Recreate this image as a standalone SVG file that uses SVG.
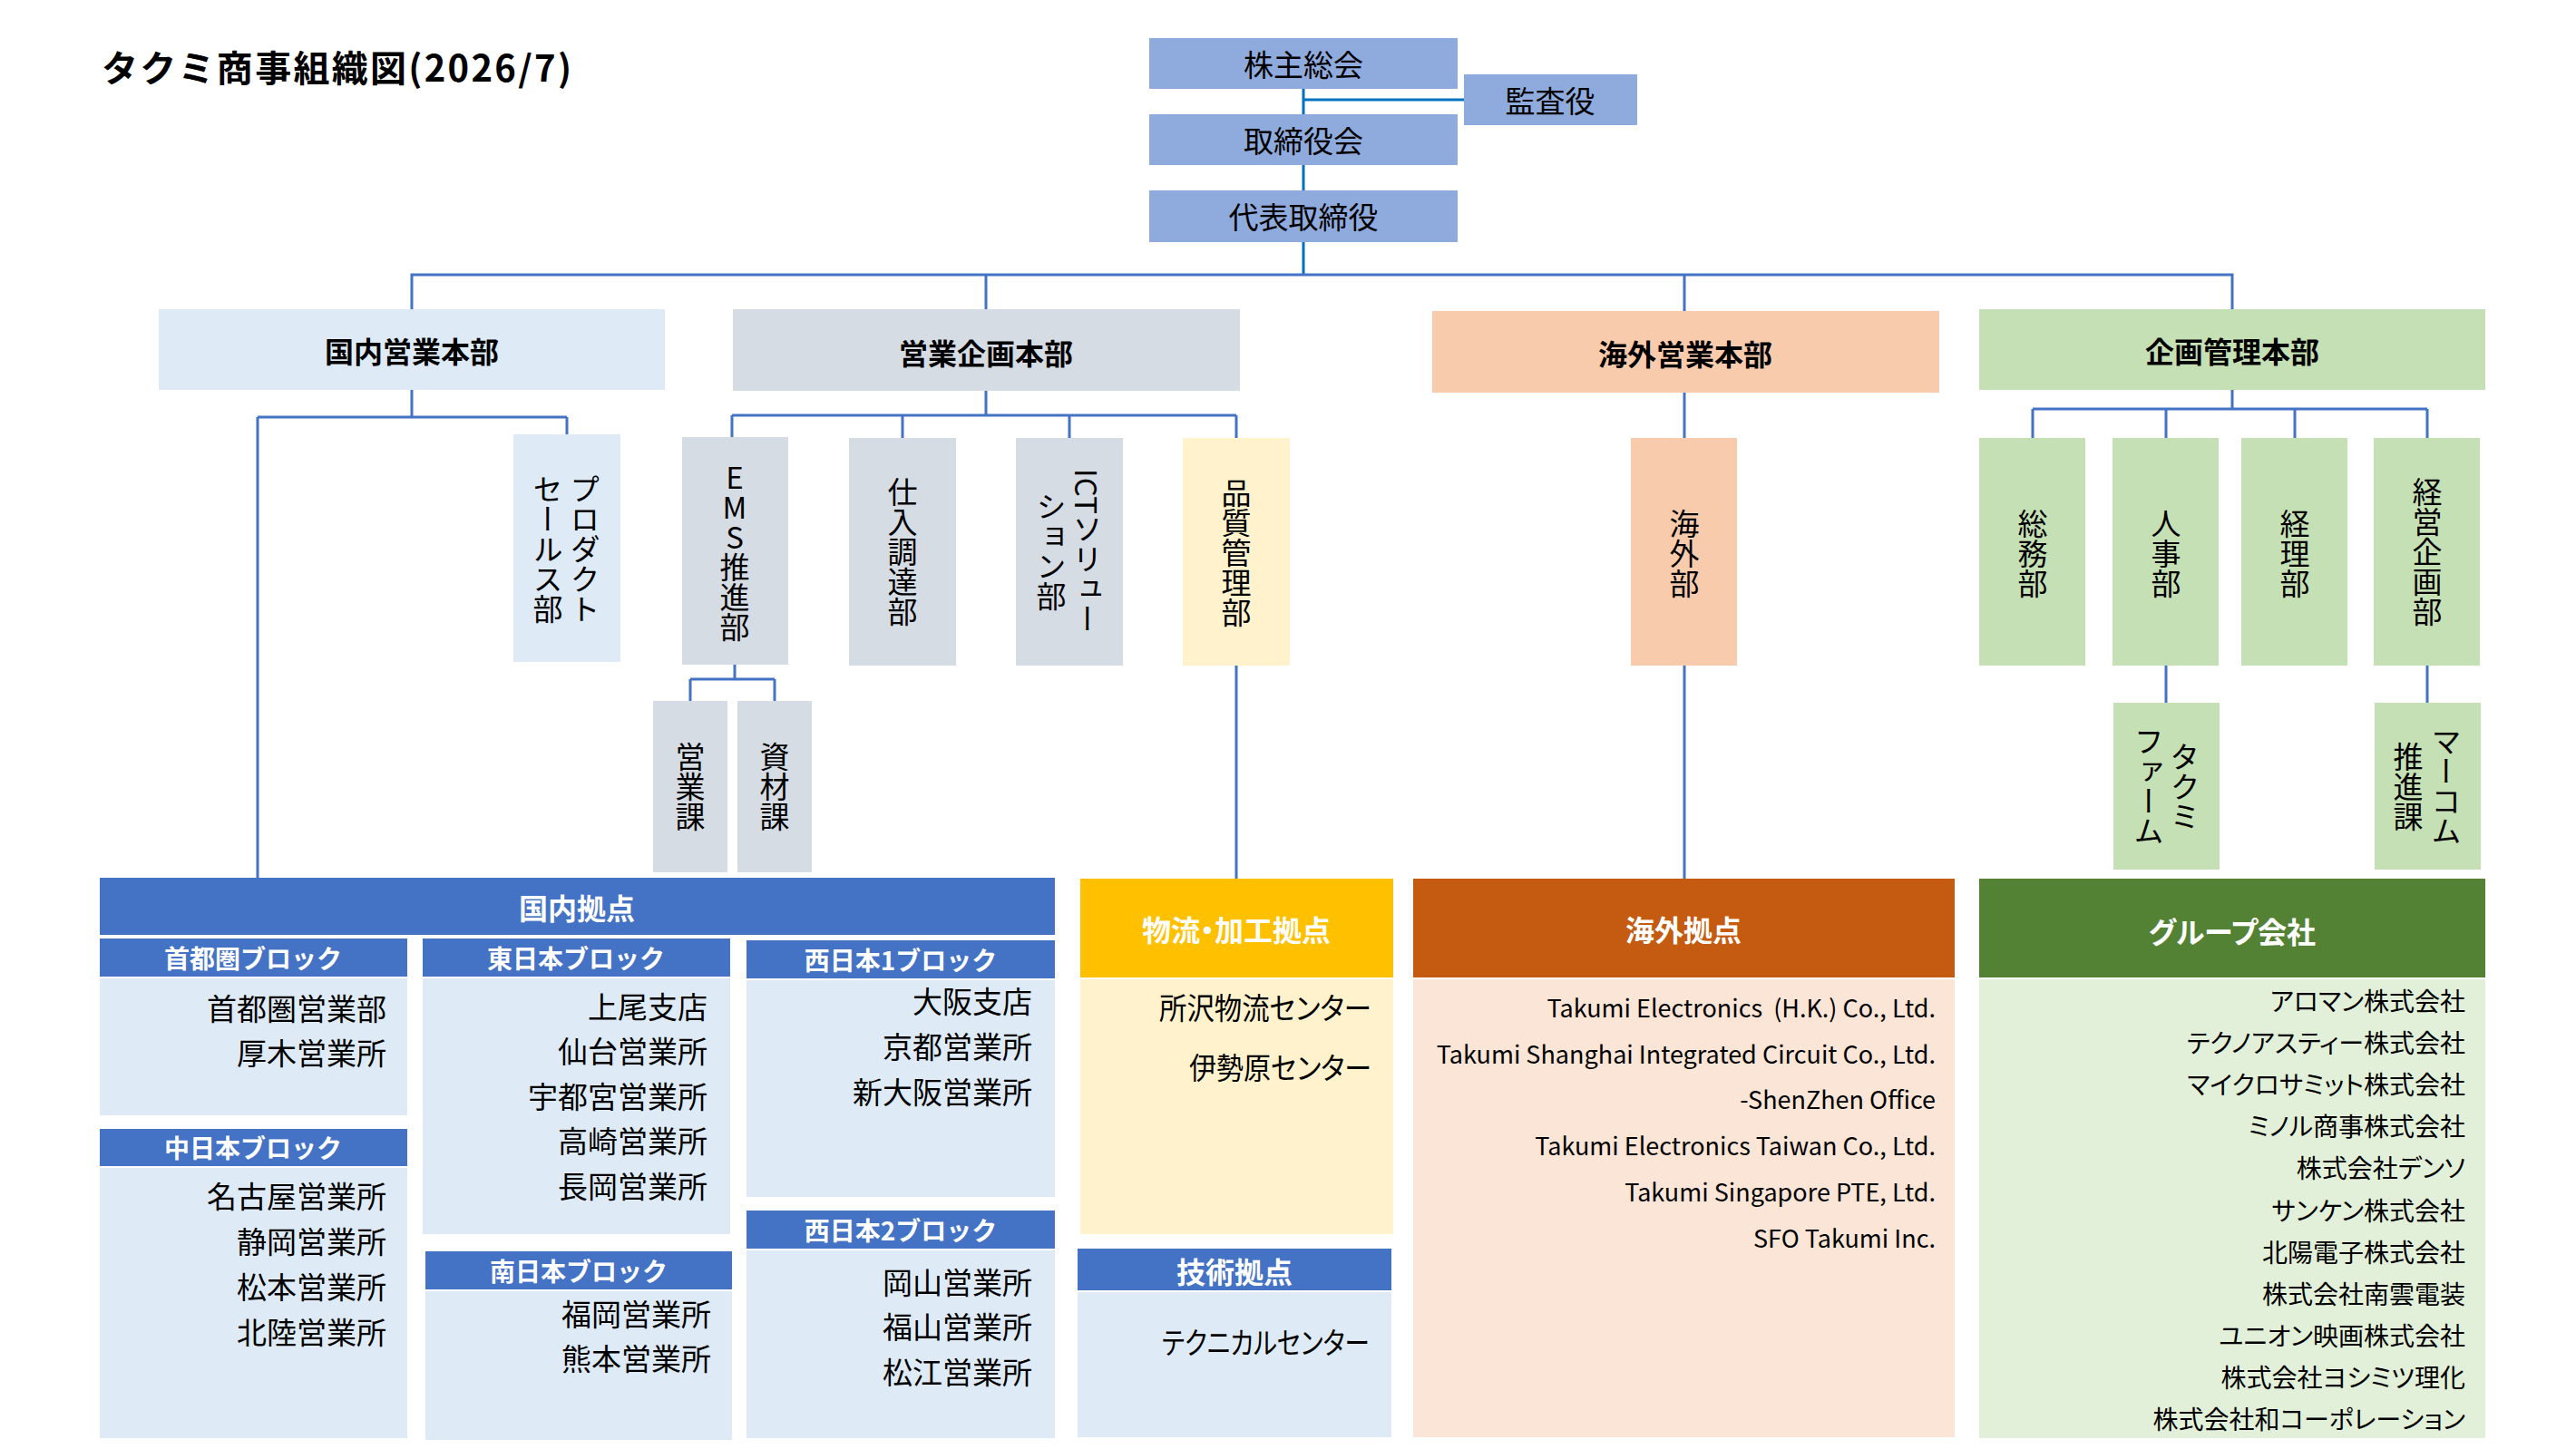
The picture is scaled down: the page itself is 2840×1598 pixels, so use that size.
<svg xmlns="http://www.w3.org/2000/svg" width="2840" height="1598" viewBox="0 0 2840 1598">
<style>
text { font-family: "Noto Sans CJK JP", "Noto Sans", sans-serif; fill: #000; dominant-baseline: central; }
.top { font-size: 33px; text-anchor: middle; }
.hd { font-size: 32px; font-weight: bold; text-anchor: middle; }
.v { font-size: 33px; writing-mode: vertical-rl; text-anchor: middle; }
.up { text-orientation: upright; }
.wh { fill: #fff; font-weight: bold; text-anchor: middle; font-size: 32px; font-feature-settings: "palt"; }
.bk { fill: #fff; font-weight: bold; text-anchor: middle; font-size: 28px; }
.it { font-size: 33px; text-anchor: end; font-feature-settings: "palt"; }
.en { font-size: 27px; text-anchor: end; }
.gc { font-size: 28px; text-anchor: end; font-feature-settings: "palt"; }
.ln { stroke: #4472C4; stroke-width: 3; fill: none; }
.ln2 { stroke: #0070C0; stroke-width: 3; fill: none; }
.exec { fill: #8FAADC; }
.lb { fill: #DEEBF7; }
.gy { fill: #D6DCE4; }
.yl { fill: #FFF2CC; }
.or { fill: #F8CBAD; }
.gr { fill: #C5E0B4; }
.bl { fill: #4472C4; }
</style>

<text id="title" x="112" y="73" font-size="40" font-weight="bold" textLength="518" lengthAdjust="spacing">タクミ商事組織図(2026/7)</text>

<g id="connectors">
  <path class="ln2" d="M1437,98 V126 M1437,182 V210 M1437,267 V303 M1437,110 H1614"/>
  <path class="ln" d="M454,341 V303 H2461 V341 M1087,303 V341 M1857,303 V343"/>
  <path class="ln" d="M454,430 V460 M284,460 H625 M284,460 V968 M625,460 V479"/>
  <path class="ln" d="M1087,431 V458 M807,458 H1363 M807,458 V482 M995,458 V483 M1179,458 V483 M1363,458 V483"/>
  <path class="ln" d="M810,733 V749 M761,749 H854 M761,749 V773 M854,749 V773"/>
  <path class="ln" d="M1363,734 V969"/>
  <path class="ln" d="M1857,433 V483 M1857,734 V969"/>
  <path class="ln" d="M2461,430 V451 M2241,451 H2676 M2241,451 V483 M2388,451 V483 M2530,451 V483 M2676,451 V483"/>
  <path class="ln" d="M2388,734 V775 M2676,734 V775"/>
</g>

<g id="n-kabunushi"><rect class="exec" x="1267" y="42" width="340" height="56"/><text class="top" x="1437" y="70">株主総会</text></g>
<g id="n-kansa"><rect class="exec" x="1614" y="82" width="191" height="56"/><text class="top" x="1709" y="110">監査役</text></g>
<g id="n-torishimari"><rect class="exec" x="1267" y="126" width="340" height="56"/><text class="top" x="1437" y="154">取締役会</text></g>
<g id="n-daihyo"><rect class="exec" x="1267" y="210" width="340" height="57"/><text class="top" x="1437" y="238">代表取締役</text></g>

<g id="n-kokunai-honbu"><rect class="lb" x="175" y="341" width="558" height="89"/><text class="hd" x="454" y="386">国内営業本部</text></g>
<g id="n-kikaku-eigyo-honbu"><rect class="gy" x="808" y="341" width="559" height="90"/><text class="hd" x="1087" y="388">営業企画本部</text></g>
<g id="n-kaigai-honbu"><rect class="or" x="1579" y="343" width="559" height="90"/><text class="hd" x="1858" y="389">海外営業本部</text></g>
<g id="n-kanri-honbu"><rect class="gr" x="2182" y="341" width="558" height="89"/><text class="hd" x="2461" y="386">企画管理本部</text></g>

<g id="n-product"><rect class="lb" x="566" y="479" width="118" height="251"/><text class="v" x="645" y="605">プロダクト</text><text class="v" x="604" y="605">セールス部</text></g>
<g id="n-ems"><rect class="gy" x="752" y="482" width="117" height="251"/><text class="v up" x="810" y="609">EMS推進部</text></g>
<g id="n-shiire"><rect class="gy" x="936" y="483" width="118" height="251"/><text class="v" x="995" y="608">仕入調達部</text></g>
<g id="n-ict"><rect class="gy" x="1120" y="483" width="118" height="251"/><text class="v" x="1199" y="608">ICTソリュー</text><text class="v" x="1159" y="608">ション部</text></g>
<g id="n-hinshitsu"><rect class="yl" x="1304" y="483" width="118" height="251"/><text class="v" x="1363" y="609">品質管理部</text></g>
<g id="n-eigyoka"><rect class="gy" x="720" y="773" width="82" height="189"/><text class="v" x="761" y="867">営業課</text></g>
<g id="n-shizaika"><rect class="gy" x="813" y="773" width="82" height="189"/><text class="v" x="854" y="867">資材課</text></g>
<g id="n-kaigaibu"><rect class="or" x="1798" y="483" width="117" height="251"/><text class="v" x="1857" y="610">海外部</text></g>
<g id="n-somu"><rect class="gr" x="2182" y="483" width="117" height="251"/><text class="v" x="2241" y="610">総務部</text></g>
<g id="n-jinji"><rect class="gr" x="2329" y="483" width="117" height="251"/><text class="v" x="2388" y="610">人事部</text></g>
<g id="n-keiri"><rect class="gr" x="2471" y="483" width="117" height="251"/><text class="v" x="2530" y="610">経理部</text></g>
<g id="n-keiei"><rect class="gr" x="2617" y="483" width="117" height="251"/><text class="v" x="2676" y="608">経営企画部</text></g>
<g id="n-takumifarm"><rect class="gr" x="2330" y="775" width="117" height="184"/><text class="v" x="2409" y="867">タクミ</text><text class="v" x="2369" y="867">ファーム</text></g>
<g id="n-marcom"><rect class="gr" x="2618" y="775" width="117" height="184"/><text class="v" x="2697" y="867">マーコム</text><text class="v" x="2655" y="867">推進課</text></g>

<g id="n-kokunai-kyoten">
  <rect class="bl" x="110" y="968" width="1053" height="63"/><text class="wh" x="636" y="1000">国内拠点</text>
</g>
<g id="n-shutoken">
  <rect class="bl" x="110" y="1035" width="339" height="42"/><text class="bk" x="279" y="1056">首都圏ブロック</text>
  <rect class="lb" x="110" y="1079" width="339" height="151"/>
  <text class="it" x="426" y="1111">首都圏営業部</text><text class="it" x="426" y="1160">厚木営業所</text>
</g>
<g id="n-nakanihon">
  <rect class="bl" x="110" y="1245" width="339" height="41"/><text class="bk" x="279" y="1265">中日本ブロック</text>
  <rect class="lb" x="110" y="1288" width="339" height="298"/>
  <text class="it" x="426" y="1318">名古屋営業所</text><text class="it" x="426" y="1368">静岡営業所</text>
  <text class="it" x="426" y="1418">松本営業所</text><text class="it" x="426" y="1468">北陸営業所</text>
</g>
<g id="n-higashinihon">
  <rect class="bl" x="466" y="1035" width="339" height="42"/><text class="bk" x="635" y="1056">東日本ブロック</text>
  <rect class="lb" x="466" y="1079" width="339" height="282"/>
  <text class="it" x="780" y="1109">上尾支店</text><text class="it" x="780" y="1158">仙台営業所</text>
  <text class="it" x="780" y="1208">宇都宮営業所</text><text class="it" x="780" y="1257">高崎営業所</text>
  <text class="it" x="780" y="1307">長岡営業所</text>
</g>
<g id="n-minaminihon">
  <rect class="bl" x="469" y="1380" width="338" height="42"/><text class="bk" x="638" y="1401">南日本ブロック</text>
  <rect class="lb" x="469" y="1424" width="338" height="164"/>
  <text class="it" x="784" y="1448">福岡営業所</text><text class="it" x="784" y="1497">熊本営業所</text>
</g>
<g id="n-nishinihon1">
  <rect class="bl" x="823" y="1037" width="340" height="42"/><text class="bk" x="993" y="1058">西日本1ブロック</text>
  <rect class="lb" x="823" y="1081" width="340" height="239"/>
  <text class="it" x="1138" y="1103">大阪支店</text><text class="it" x="1138" y="1153">京都営業所</text>
  <text class="it" x="1138" y="1203">新大阪営業所</text>
</g>
<g id="n-nishinihon2">
  <rect class="bl" x="823" y="1335" width="340" height="42"/><text class="bk" x="993" y="1356">西日本2ブロック</text>
  <rect class="lb" x="823" y="1379" width="340" height="207"/>
  <text class="it" x="1138" y="1413">岡山営業所</text><text class="it" x="1138" y="1462">福山営業所</text>
  <text class="it" x="1138" y="1512">松江営業所</text>
</g>

<g id="n-butsuryu">
  <rect x="1191" y="969" width="345" height="109" fill="#FFC000"/><text class="wh" x="1363" y="1024">物流・加工拠点</text>
  <rect class="yl" x="1191" y="1080" width="345" height="281"/>
  <text class="it" x="1512" y="1110" textLength="234" lengthAdjust="spacingAndGlyphs">所沢物流センター</text>
  <text class="it" x="1512" y="1176" textLength="201" lengthAdjust="spacingAndGlyphs">伊勢原センター</text>
</g>
<g id="n-gijutsu">
  <rect class="bl" x="1188" y="1377" width="346" height="46"/><text class="wh" x="1361" y="1401">技術拠点</text>
  <rect class="lb" x="1188" y="1425" width="346" height="160"/>
  <text class="it" x="1510" y="1479" textLength="229" lengthAdjust="spacingAndGlyphs">テクニカルセンター</text>
</g>
<g id="n-kaigai-kyoten">
  <rect x="1558" y="969" width="597" height="109" fill="#C55A11"/><text class="wh" x="1856" y="1024">海外拠点</text>
  <rect x="1558" y="1080" width="597" height="505" fill="#FBE5D6"/>
  <text class="en" x="2134" y="1110" xml:space="preserve">Takumi Electronics  (H.K.) Co., Ltd.</text>
  <text class="en" x="2134" y="1161">Takumi Shanghai Integrated Circuit Co., Ltd.</text>
  <text class="en" x="2134" y="1211">-ShenZhen Office</text>
  <text class="en" x="2134" y="1262">Takumi Electronics Taiwan Co., Ltd.</text>
  <text class="en" x="2134" y="1313">Takumi Singapore PTE, Ltd.</text>
  <text class="en" x="2134" y="1364">SFO Takumi Inc.</text>
</g>
<g id="n-group">
  <rect x="2182" y="969" width="558" height="109" fill="#548235"/><text class="wh" x="2461" y="1026">グループ会社</text>
  <rect x="2182" y="1080" width="558" height="506" fill="#E2F0D9"/>
  <text class="gc" x="2718" y="1103">アロマン株式会社</text>
  <text class="gc" x="2718" y="1149">テクノアスティー株式会社</text>
  <text class="gc" x="2718" y="1195">マイクロサミット株式会社</text>
  <text class="gc" x="2718" y="1241">ミノル商事株式会社</text>
  <text class="gc" x="2718" y="1287">株式会社デンソ</text>
  <text class="gc" x="2718" y="1334">サンケン株式会社</text>
  <text class="gc" x="2718" y="1380">北陽電子株式会社</text>
  <text class="gc" x="2718" y="1426">株式会社南雲電装</text>
  <text class="gc" x="2718" y="1472">ユニオン映画株式会社</text>
  <text class="gc" x="2718" y="1518">株式会社ヨシミツ理化</text>
  <text class="gc" x="2718" y="1564">株式会社和コーポレーション</text>
</g>
</svg>
